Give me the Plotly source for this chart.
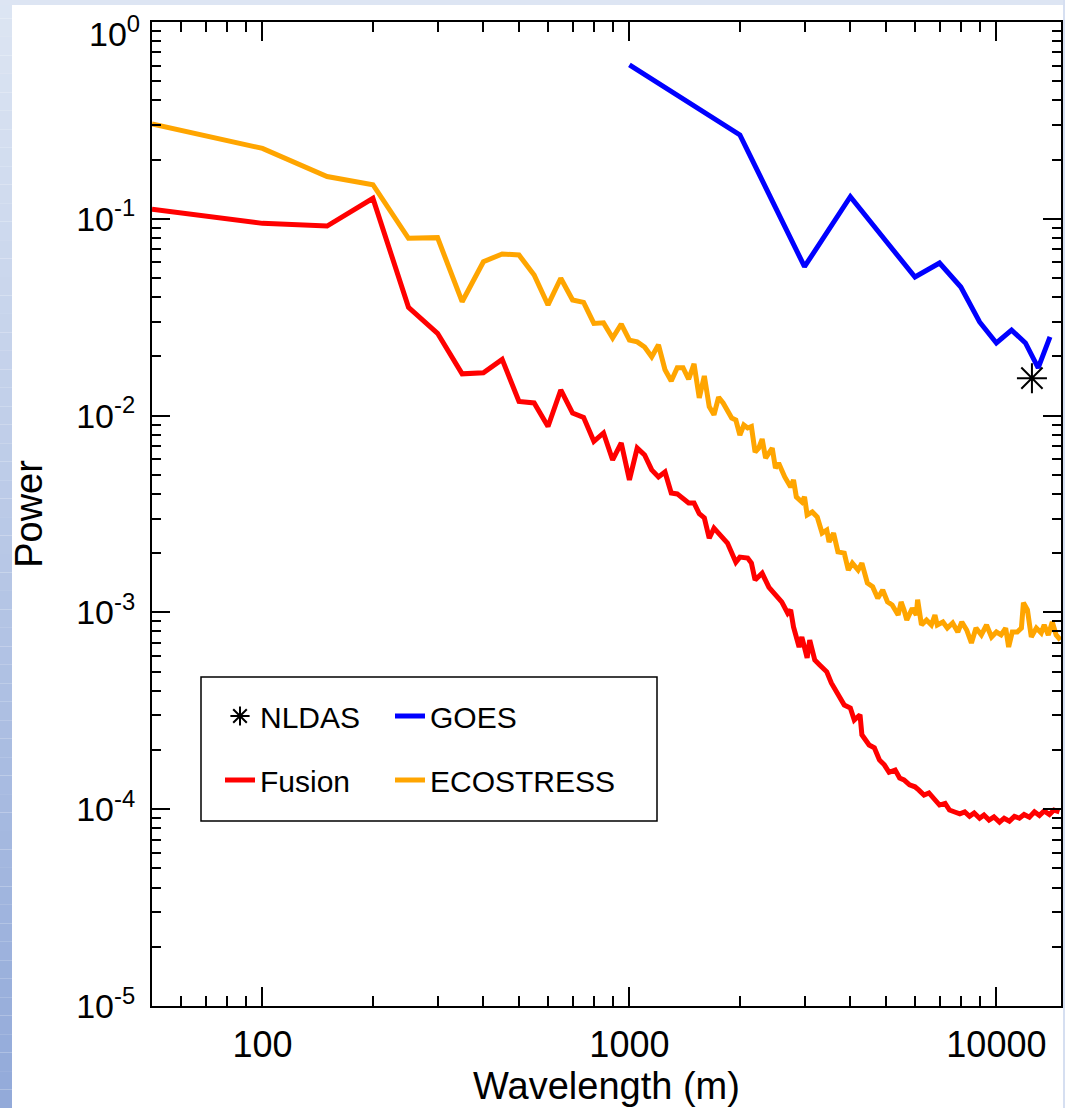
import plotly.graph_objects as go

# ---------------- data ----------------
fusion_x = [50, 100, 150, 200, 250, 300, 350, 400, 450, 500, 550, 600, 650, 700, 750, 800,
            850, 900, 950, 1000, 1050, 1100, 1150, 1200, 1250, 1300, 1350, 1450, 1500, 1550,
            1600, 1650, 1700, 1800, 1850, 1950, 2000, 2100, 2150, 2200, 2300, 2400, 2500, 2600,
            2700, 2750, 2800, 2900, 2950, 3050, 3100, 3200, 3300, 3450, 3550, 3700, 3850, 4000,
            4100, 4250, 4300, 4500, 4650, 4800, 4950, 5100, 5300, 5450, 5600, 5800, 6000, 6150,
            6350, 6550, 6800, 7000, 7250, 7450, 7700, 7950, 8200, 8450, 8700, 9000, 9250, 9550,
            9850, 10200, 10500, 10850, 11200, 11550, 11900, 12300, 12700, 13100, 13500, 13950,
            14350, 14850]
fusion_y = [0.112, 0.0948, 0.0919, 0.127, 0.0355, 0.0262, 0.0163, 0.0165, 0.0193, 0.0118,
            0.0116, 0.0088, 0.0135, 0.0103, 0.0098, 0.0074, 0.00816, 0.00595, 0.00726, 0.00471,
            0.00684, 0.00631, 0.0053, 0.00488, 0.00517, 0.00404, 0.0040, 0.0036, 0.0036, 0.00317,
            0.00302, 0.00238, 0.00268, 0.00241, 0.00225, 0.0018, 0.00191, 0.00189, 0.00178,
            0.00146, 0.00158, 0.00134, 0.00122, 0.00113, 0.00099, 0.00103, 0.000843, 0.000667,
            0.00075, 0.000587, 0.000724, 0.000573, 0.000541, 0.000499, 0.000438, 0.00038,
            0.000338, 0.000327, 0.000284, 0.000302, 0.000239, 0.000212, 0.000205, 0.000178,
            0.000168, 0.000154, 0.000158, 0.000144, 0.000141, 0.000133, 0.00013, 0.000125,
            0.000118, 0.000121, 0.000111, 0.000105, 0.000107, 0.000099, 0.0000968, 0.0000946,
            0.0000968, 0.000092, 0.0000957, 0.00009, 0.0000934, 0.000088, 0.0000913, 0.000086,
            0.00009, 0.000087, 0.000092, 0.00009, 0.000094, 0.000091, 0.000097, 0.000093,
            0.000098, 0.000094, 0.000099, 0.000097]

ecostress_x = [50, 100, 150, 200, 250, 300, 350, 400, 450, 500, 550, 600, 650, 700, 750, 800,
               850, 900, 950, 1000, 1050, 1100, 1150, 1200, 1250, 1300, 1350, 1400, 1450, 1500,
               1550, 1600, 1650, 1700, 1750, 1800, 1900, 1950, 2000, 2050, 2100, 2150, 2200,
               2250, 2300, 2350, 2450, 2500, 2550, 2650, 2750, 2800, 2850, 2950, 3000, 3050,
               3150, 3250, 3350, 3450, 3500, 3600, 3700, 3850, 3950, 4050, 4200, 4300, 4450,
               4600, 4750, 4900, 5050, 5200, 5400, 5500, 5600, 5700, 5900, 6050, 6100, 6250,
               6450, 6650, 6800, 6900, 7150, 7350, 7600, 7850, 8050, 8300, 8550, 8800, 9100,
               9400, 9700, 10000, 10300, 10600, 10800, 11050, 11400, 11700, 11850, 12150,
               12450, 12850, 13250, 13500, 13850, 14200, 14550, 14950]
ecostress_y = [0.303, 0.228, 0.164, 0.149, 0.0796, 0.0802, 0.0379, 0.0605, 0.0663, 0.0655,
               0.0518, 0.0365, 0.0499, 0.0387, 0.0376, 0.0294, 0.0296, 0.0248, 0.0292, 0.0242,
               0.0237, 0.0223, 0.0199, 0.0229, 0.0171, 0.0150, 0.0175, 0.0175, 0.0153, 0.0183,
               0.0123, 0.0159, 0.0111, 0.0101, 0.0124, 0.0116, 0.00972, 0.0095, 0.00796,
               0.00896, 0.00865, 0.0088, 0.00653, 0.00684, 0.0076, 0.00609, 0.00684, 0.00541,
               0.00574, 0.00488, 0.00434, 0.00471, 0.00386, 0.00364, 0.00386, 0.00313, 0.00324,
               0.00305, 0.00253, 0.00262, 0.00228, 0.00253, 0.00203, 0.0020, 0.00164, 0.00178,
               0.00164, 0.00178, 0.00141, 0.00135, 0.00118, 0.0013, 0.00113, 0.00109, 0.00097,
               0.00113, 0.00103, 0.000915, 0.00105, 0.00097, 0.00116, 0.000863, 0.000915,
               0.000863, 0.00097, 0.000863, 0.000894, 0.000833, 0.000883, 0.000795, 0.000894,
               0.000814, 0.000699, 0.000833, 0.000768, 0.000863, 0.00075, 0.000795, 0.000768,
               0.000833, 0.000667, 0.000795, 0.000795, 0.000833, 0.00112, 0.00103, 0.00075,
               0.000833, 0.000786, 0.000863, 0.000768, 0.000894, 0.000768, 0.000724]

goes_x = [1000, 2000, 3000, 4000, 5000, 6000, 7000, 8000, 9000, 10000, 11000, 12000, 13000, 14000]
goes_y = [0.605, 0.267, 0.0571, 0.1295, 0.0771, 0.0506, 0.0596, 0.045, 0.0299, 0.0234,
          0.0272, 0.0234, 0.0175, 0.0251]

nldas_x = [12500]
nldas_y = [0.0155]

x_ticks = [100, 1000, 10000]
x_ticktext = ["100", "1000", "10000"]
y_ticks = [1e-5, 1e-4, 1e-3, 1e-2, 1e-1, 1]
y_ticktext = ["10<sup>-5</sup>", "10<sup>-4</sup>", "10<sup>-3</sup>",
              "10<sup>-2</sup>", "10<sup>-1</sup>", "10<sup>0</sup>"]

# ---------------- layout geometry ----------------
W, H = 1065, 1108
ML, MR, MT, MB = 152, 4, 22, 102
PW, PH = W - ML - MR, H - MT - MB
FONT = "Liberation Sans, Arial, Helvetica, sans-serif"


def px2x(px):
    return (px - ML) / PW


def py2y(py):
    return (H - MB - py) / PH


fig = go.Figure()
fig.add_trace(go.Scatter(x=fusion_x, y=fusion_y, mode="lines", name="Fusion",
                         line=dict(color="#ff0000", width=5), legend="legend",
                         legendgroup="f", legendrank=2))
fig.add_trace(go.Scatter(x=ecostress_x, y=ecostress_y, mode="lines", name="ECOSTRESS",
                         line=dict(color="#ffa500", width=5), legend="legend2",
                         legendgroup="e", legendrank=2))
fig.add_trace(go.Scatter(x=goes_x, y=goes_y, mode="lines", name="GOES",
                         line=dict(color="#0000ff", width=5), legend="legend2",
                         legendgroup="g", legendrank=1))
fig.add_trace(go.Scatter(x=nldas_x, y=nldas_y, mode="markers", name="NLDAS",
                         marker=dict(symbol="asterisk-open", size=25, color="black",
                                     line=dict(color="black", width=2)),
                         legend="legend", legendgroup="n", legendrank=1))

minor_x = [m * 10 ** e for e in range(1, 5) for m in range(2, 10) if 50 < m * 10 ** e < 15000]
minor_y = [m * 10.0 ** e for e in range(-5, 0) for m in range(2, 10)]

axis_common = dict(type="log", showgrid=False, zeroline=False, showline=True,
                   linecolor="black", linewidth=2, mirror="allticks", ticks="inside",
                   tickcolor="black", tickwidth=2, tickmode="array",
                   ticklabeloverflow="allow")

# the top label (10^0) sits a little lower than its tick in the reference: draw it as an
# annotation and leave its tick text empty
y_ticktext_axis = [t if v != 1 else "" for v, t in zip(y_ticks, y_ticktext)]

fig.update_xaxes(**axis_common, range=[1.69897, 4.17609], tickvals=x_ticks,
                 ticktext=x_ticktext, ticklen=19,
                 tickfont=dict(family=FONT, size=36, color="black"),
                 minor=dict(tickvals=minor_x, ticks="inside", ticklen=10, tickwidth=2,
                            tickcolor="black", showgrid=False),
                 title=dict(text="Wavelength (m)", font=dict(family=FONT, size=38, color="black"),
                            standoff=4),
                 ticklabelstandoff=6, automargin=False)
fig.update_yaxes(**axis_common, range=[-5, 0], tickvals=y_ticks, ticktext=y_ticktext_axis,
                 ticklen=18, tickfont=dict(family=FONT, size=34, color="black"),
                 minor=dict(tickvals=minor_y, ticks="inside", ticklen=9, tickwidth=2,
                            tickcolor="black", showgrid=False),
                 title=dict(text="Power", font=dict(family=FONT, size=38, color="black"),
                            standoff=22),
                 ticklabelstandoff=8, automargin=False)

# slide-background strips around the white page (decoration)
shapes = []
N = 60
top_c = (221, 229, 243)
bot_c = (146, 170, 217)
for i in range(N):
    f = (i + 0.5) / N
    c = tuple(int(round(top_c[k] + (bot_c[k] - top_c[k]) * f)) for k in range(3))
    y1 = py2y(H * i / N)
    y0 = py2y(H * (i + 1) / N)
    shapes.append(dict(type="rect", xref="paper", yref="paper", x0=px2x(0), x1=px2x(12),
                       y0=y0, y1=y1, fillcolor="rgb(%d,%d,%d)" % c, line=dict(width=0),
                       layer="above"))
shapes.append(dict(type="rect", xref="paper", yref="paper", x0=px2x(0), x1=px2x(W),
                   y0=py2y(5), y1=py2y(0), fillcolor="rgb(221,229,243)", line=dict(width=0),
                   layer="above"))
shapes.append(dict(type="rect", xref="paper", yref="paper", x0=px2x(1063), x1=px2x(W),
                   y0=py2y(H), y1=py2y(0), fillcolor="rgb(214,223,241)", line=dict(width=0),
                   layer="above"))
# legend frame
shapes.append(dict(type="rect", xref="paper", yref="paper", x0=px2x(201), x1=px2x(657),
                   y0=py2y(821), y1=py2y(677), line=dict(color="black", width=1.5),
                   fillcolor="rgba(0,0,0,0)", layer="above"))

top_label = y_ticktext[y_ticks.index(1)]
annotations = [dict(text=top_label, xref="paper", yref="y", x=px2x(142), y=0,
                    xanchor="right", yanchor="middle", yshift=-9, showarrow=False,
                    font=dict(family=FONT, size=34, color="black"))]

legend_common = dict(yanchor="top", xanchor="left", bgcolor="rgba(0,0,0,0)", borderwidth=0,
                     font=dict(family=FONT, size=30, color="black"), tracegroupgap=22,
                     orientation="v", itemwidth=30)

fig.update_layout(
    width=W, height=H,
    margin=dict(l=ML, r=MR, t=MT, b=MB, autoexpand=False),
    paper_bgcolor="white", plot_bgcolor="white",
    font=dict(family=FONT, color="black"),
    showlegend=True,
    legend=dict(**legend_common, x=px2x(220), y=py2y(690)),
    legend2=dict(**legend_common, x=px2x(390), y=py2y(690)),
    shapes=shapes,
    annotations=annotations,
)

fig.write_html("out.html")
